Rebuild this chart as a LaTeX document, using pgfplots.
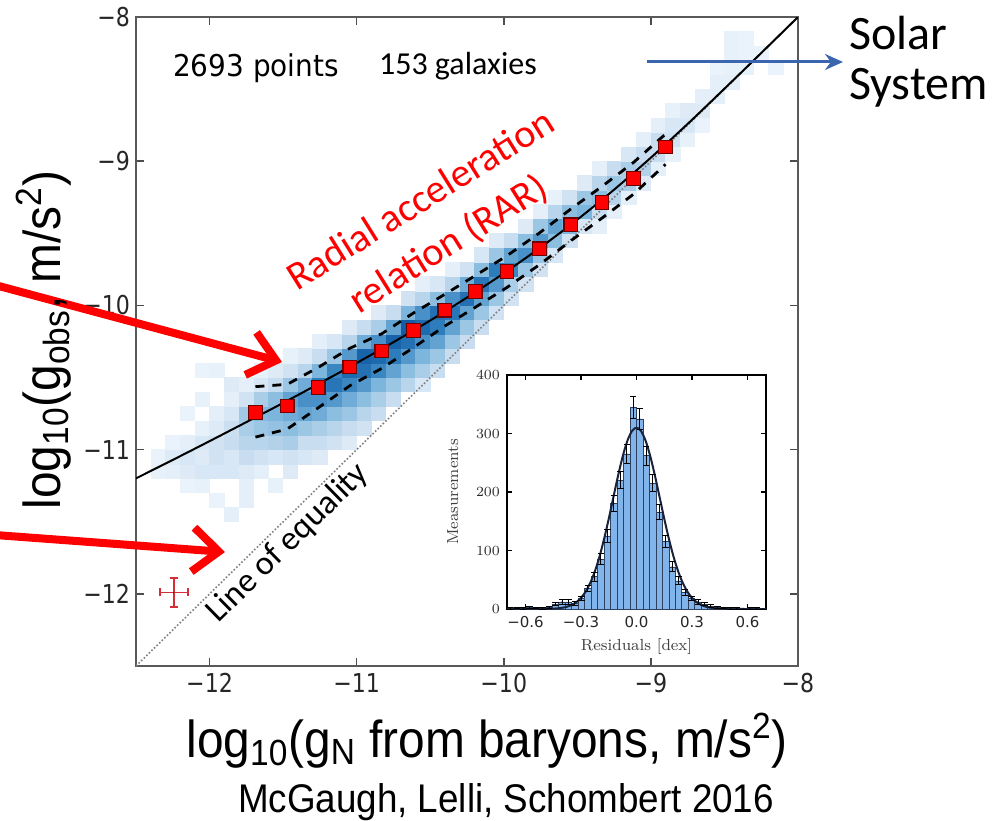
\documentclass[border=0pt]{standalone}
\usepackage{fontspec}
\usepackage{graphicx}
\usepackage{pgfplots}
\usepackage{pgfplotstable}
\pgfplotsset{compat=1.18}
\usetikzlibrary{arrows.meta}
\newfontfamily\dvs{DejaVu Sans}
\newfontfamily\calib{Carlito}
\newfontfamily\ars{Liberation Sans}
\definecolor{sqedge}{RGB}{110,0,0}
\definecolor{errred}{RGB}{215,45,55}
\definecolor{arrowblue}{RGB}{59,102,175}
\definecolor{histfill}{RGB}{128,180,235}
\definecolor{histedge}{RGB}{45,65,95}
\definecolor{fitline}{RGB}{25,35,60}

\pgfplotstableread{
x y m
-12.35 -11.15 0.05
-12.35 -11.05 0.04
-12.25 -11.15 0.06
-12.25 -11.05 0.08
-12.25 -10.95 0.04
-12.15 -11.25 0.04
-12.15 -11.15 0.08
-12.15 -11.05 0.10
-12.15 -10.95 0.06
-12.15 -10.75 0.04
-12.05 -11.25 0.05
-12.05 -11.15 0.10
-12.05 -11.05 0.08
-12.05 -10.95 0.10
-12.05 -10.85 0.05
-12.05 -10.65 0.05
-12.05 -10.45 0.04
-11.95 -11.35 0.04
-11.95 -11.15 0.10
-11.95 -11.05 0.12
-11.95 -10.95 0.12
-11.95 -10.85 0.08
-11.95 -10.75 0.06
-11.95 -10.45 0.05
-11.85 -11.45 0.06
-11.85 -11.15 0.10
-11.85 -11.05 0.10
-11.85 -10.95 0.15
-11.85 -10.85 0.14
-11.85 -10.75 0.10
-11.85 -10.65 0.06
-11.85 -10.55 0.08
-11.75 -11.35 0.06
-11.75 -11.25 0.06
-11.75 -11.15 0.08
-11.75 -11.05 0.15
-11.75 -10.95 0.20
-11.75 -10.85 0.25
-11.75 -10.75 0.28
-11.75 -10.65 0.12
-11.75 -10.55 0.06
-11.65 -11.15 0.06
-11.65 -11.05 0.12
-11.65 -10.95 0.20
-11.65 -10.85 0.30
-11.65 -10.75 0.38
-11.65 -10.65 0.25
-11.65 -10.55 0.10
-11.65 -10.45 0.05
-11.55 -11.25 0.05
-11.55 -11.05 0.10
-11.55 -10.95 0.22
-11.55 -10.85 0.32
-11.55 -10.75 0.40
-11.55 -10.65 0.35
-11.55 -10.55 0.15
-11.55 -10.45 0.08
-11.45 -11.15 0.08
-11.45 -11.05 0.12
-11.45 -10.95 0.25
-11.45 -10.85 0.35
-11.45 -10.75 0.45
-11.45 -10.65 0.50
-11.45 -10.55 0.30
-11.45 -10.45 0.12
-11.45 -10.35 0.05
-11.35 -11.05 0.10
-11.35 -10.95 0.15
-11.35 -10.85 0.30
-11.35 -10.75 0.50
-11.35 -10.65 0.60
-11.35 -10.55 0.45
-11.35 -10.45 0.20
-11.35 -10.35 0.08
-11.25 -11.05 0.08
-11.25 -10.95 0.15
-11.25 -10.85 0.25
-11.25 -10.75 0.45
-11.25 -10.65 0.60
-11.25 -10.55 0.70
-11.25 -10.45 0.40
-11.25 -10.35 0.15
-11.25 -10.25 0.06
-11.15 -10.95 0.12
-11.15 -10.85 0.20
-11.15 -10.75 0.35
-11.15 -10.65 0.55
-11.15 -10.55 0.75
-11.15 -10.45 0.65
-11.15 -10.35 0.30
-11.15 -10.25 0.10
-11.05 -10.95 0.08
-11.05 -10.85 0.15
-11.05 -10.75 0.30
-11.05 -10.65 0.45
-11.05 -10.55 0.65
-11.05 -10.45 0.85
-11.05 -10.35 0.55
-11.05 -10.25 0.20
-11.05 -10.15 0.08
-10.95 -10.85 0.12
-10.95 -10.75 0.20
-10.95 -10.65 0.35
-10.95 -10.55 0.55
-10.95 -10.45 0.80
-10.95 -10.35 0.90
-10.95 -10.25 0.45
-10.95 -10.15 0.15
-10.85 -10.75 0.15
-10.85 -10.65 0.25
-10.85 -10.55 0.40
-10.85 -10.45 0.65
-10.85 -10.35 0.85
-10.85 -10.25 0.60
-10.85 -10.15 0.25
-10.85 -10.05 0.08
-10.75 -10.65 0.15
-10.75 -10.55 0.30
-10.75 -10.45 0.50
-10.75 -10.35 0.70
-10.75 -10.25 0.90
-10.75 -10.15 0.50
-10.75 -10.05 0.15
-10.65 -10.55 0.20
-10.65 -10.45 0.35
-10.65 -10.35 0.55
-10.65 -10.25 0.80
-10.65 -10.15 0.95
-10.65 -10.05 0.40
-10.65 -9.95 0.12
-10.55 -10.55 0.10
-10.55 -10.45 0.25
-10.55 -10.35 0.40
-10.55 -10.25 0.60
-10.55 -10.15 0.85
-10.55 -10.05 0.60
-10.55 -9.95 0.20
-10.55 -9.85 0.06
-10.45 -10.45 0.15
-10.45 -10.35 0.30
-10.45 -10.25 0.50
-10.45 -10.15 0.70
-10.45 -10.05 0.80
-10.45 -9.95 0.35
-10.45 -9.85 0.10
-10.35 -10.35 0.15
-10.35 -10.25 0.30
-10.35 -10.15 0.50
-10.35 -10.05 0.75
-10.35 -9.95 0.60
-10.35 -9.85 0.20
-10.35 -9.75 0.06
-10.25 -10.25 0.15
-10.25 -10.15 0.30
-10.25 -10.05 0.50
-10.25 -9.95 0.80
-10.25 -9.85 0.45
-10.25 -9.75 0.12
-10.15 -10.15 0.15
-10.15 -10.05 0.30
-10.15 -9.95 0.50
-10.15 -9.85 0.75
-10.15 -9.75 0.35
-10.15 -9.65 0.10
-10.05 -10.05 0.12
-10.05 -9.95 0.30
-10.05 -9.85 0.55
-10.05 -9.75 0.70
-10.05 -9.65 0.30
-10.05 -9.55 0.08
-9.95 -9.95 0.12
-9.95 -9.85 0.25
-9.95 -9.75 0.65
-9.95 -9.65 0.50
-9.95 -9.55 0.15
-9.85 -9.85 0.12
-9.85 -9.75 0.30
-9.85 -9.65 0.60
-9.85 -9.55 0.35
-9.85 -9.45 0.08
-9.75 -9.75 0.12
-9.75 -9.65 0.30
-9.75 -9.55 0.55
-9.75 -9.45 0.30
-9.75 -9.35 0.06
-9.65 -9.65 0.10
-9.65 -9.55 0.35
-9.65 -9.45 0.50
-9.65 -9.35 0.20
-9.65 -9.25 0.05
-9.55 -9.55 0.12
-9.55 -9.45 0.40
-9.55 -9.35 0.35
-9.55 -9.25 0.12
-9.45 -9.45 0.10
-9.45 -9.35 0.40
-9.45 -9.25 0.30
-9.45 -9.15 0.08
-9.35 -9.45 0.06
-9.35 -9.35 0.15
-9.35 -9.25 0.35
-9.35 -9.15 0.20
-9.35 -9.05 0.06
-9.25 -9.35 0.06
-9.25 -9.25 0.20
-9.25 -9.15 0.30
-9.25 -9.05 0.15
-9.15 -9.25 0.06
-9.15 -9.15 0.25
-9.15 -9.05 0.25
-9.15 -8.95 0.10
-9.05 -9.15 0.08
-9.05 -9.05 0.22
-9.05 -8.95 0.15
-9.05 -8.85 0.06
-8.95 -9.05 0.06
-8.95 -8.95 0.15
-8.95 -8.85 0.15
-8.95 -8.75 0.06
-8.85 -8.95 0.05
-8.85 -8.85 0.12
-8.85 -8.75 0.10
-8.85 -8.65 0.05
-8.75 -8.85 0.05
-8.75 -8.75 0.10
-8.75 -8.65 0.08
-8.65 -8.75 0.04
-8.65 -8.65 0.08
-8.65 -8.55 0.06
-8.55 -8.55 0.06
-8.55 -8.45 0.06
-8.55 -8.35 0.04
-8.45 -8.45 0.06
-8.45 -8.35 0.05
-8.45 -8.25 0.05
-8.45 -8.15 0.05
-8.35 -8.35 0.05
-8.35 -8.25 0.04
-8.35 -8.15 0.04
-8.25 -8.25 0.04
-8.15 -8.35 0.04
}\heat

\pgfplotstableread{
x y e
-0.6825 1 1
-0.6475 2 1.4
-0.6125 1 1
-0.5775 3 1.7
-0.5425 2 1.4
-0.5075 1 1
-0.4725 3 1.7
-0.4375 8 2.8
-0.4025 12 3.5
-0.3675 12 3.5
-0.3325 10 3.2
-0.2975 18 4.2
-0.2625 35 5.9
-0.2275 55 7.4
-0.1925 85 9.2
-0.1575 125 11.2
-0.1225 180 13.4
-0.0875 220 14.8
-0.0525 265 16.3
-0.0175 345 18.6
0.0175 325 18.0
0.0525 262 16.2
0.0875 215 14.7
0.1225 165 12.8
0.1575 115 10.7
0.1925 72 8.5
0.2275 48 6.9
0.2625 28 5.3
0.2975 18 4.2
0.3325 12 3.5
0.3675 8 2.8
0.4025 5 2.2
0.4375 3 1.7
0.4725 2 1.4
0.5075 1 1
0.5425 1 1
0.5775 0 0
0.6125 1 1
0.6475 1 1
0.6825 0 0
}\hist

\pgfplotstableread{
x y u l
-11.688 -10.743 -10.563 -10.913
-11.472 -10.697 -10.547 -10.857
-11.262 -10.570 -10.430 -10.710
-11.047 -10.427 -10.297 -10.557
-10.829 -10.316 -10.196 -10.436
-10.615 -10.173 -10.053 -10.293
-10.401 -10.033 -9.923 -10.143
-10.194 -9.903 -9.793 -10.013
-9.978 -9.765 -9.655 -9.875
-9.757 -9.607 -9.497 -9.717
-9.544 -9.441 -9.331 -9.551
-9.333 -9.285 -9.175 -9.395
-9.119 -9.119 -9.009 -9.229
-8.901 -8.902 -8.812 -9.022
}\binned

\begin{document}
\begin{tikzpicture}[x=0.5pt,y=0.5pt]
\useasboundingbox (0,0) rectangle (1004,820);

\begin{axis}[
  at={(68pt,77pt)}, anchor=south west, scale only axis,
  width=331pt, height=324.5pt,
  xmin=-12.5, xmax=-8, ymin=-12.5, ymax=-8,
  xtick={-12,-11,-10,-9,-8}, ytick={-12,-11,-10,-9,-8},
  xticklabels={−12,−11,−10,−9,−8}, yticklabels={−12,−11,−10,−9,−8},
  tick align=inside, tick pos=both,
  major tick length=4pt,
  clip marker paths=true,
  axis line style={black!65, line width=1pt},
  major tick style={black!70, line width=0.8pt},
  tick label style={font=\dvs\fontsize{13}{13}\selectfont, xscale=0.85, text=black!85},
  colormap={blues}{rgb255(0cm)=(247,251,255) rgb255(3cm)=(200,221,240) rgb255(8cm)=(125,182,220) rgb255(14cm)=(45,125,188) rgb255(20cm)=(14,86,160)},
  point meta min=0, point meta max=1,
]
\addplot[scatter, only marks, mark=square*, mark size=3.55pt,
  scatter/use mapped color={draw=mapped color, fill=mapped color},
  point meta=explicit] table[x=x, y=y, meta=m] {\heat};
\addplot[densely dotted, black!50, line width=0.8pt] coordinates {(-12.5,-12.5) (-8,-8)};
\addplot[black, line width=1pt, smooth] coordinates {
(-12.5,-11.199) (-12.25,-11.071) (-12.0,-10.941) (-11.75,-10.809) (-11.5,-10.676)
(-11.25,-10.539) (-11.0,-10.399) (-10.75,-10.2545) (-10.5,-10.104) (-10.25,-9.945)
(-10.0,-9.777) (-9.75,-9.5975) (-9.5,-9.4046) (-9.25,-9.197) (-9.0,-8.975)
(-8.75,-8.741) (-8.5,-8.497) (-8.25,-8.2495) (-8.0,-8.0)};
\addplot[black, line width=1.4pt, dash pattern=on 4.5pt off 4pt] table[x=x, y=u] {\binned};
\addplot[black, line width=1.4pt, dash pattern=on 4.5pt off 4pt] table[x=x, y=l] {\binned};
\addplot[only marks, mark=square*, mark size=3.4pt,
  mark options={fill=red, draw=sqedge, line width=0.6pt}] table[x=x, y=y] {\binned};
\addplot[draw=none, mark=*, mark size=0.01pt, mark options={draw=none, fill=none},
  error bars/.cd, x dir=both, y dir=both, x explicit, y explicit,
  error mark=|,
  error bar style={draw=errred, solid, line width=0.9pt},
  error mark options={draw=errred, solid, mark size=2pt, line width=0.9pt}]
  coordinates {(-12.244,-11.99) +- (0.095,0.1)};
\end{axis}

\begin{axis}[
  at={(253.5pt,105.5pt)}, anchor=south west, scale only axis,
  width=129.5pt, height=117pt,
  xmin=-0.7, xmax=0.7, ymin=0, ymax=400,
  xtick={-0.6,-0.3,0,0.3,0.6}, xticklabels={−0.6,−0.3,0.0,0.3,0.6},
  ytick={0,100,200,300,400},
  tick align=inside, tick pos=both,
  major tick length=2.5pt,
  clip marker paths=true,
  axis background/.style={fill=white},
  axis line style={black, line width=0.6pt},
  major tick style={black, line width=0.6pt},
  tick label style={font=\dvs\fontsize{7.5}{7.5}\selectfont, text=black!85},
  xlabel={Residuals [dex]}, ylabel={Measurements},
  label style={font=\fontsize{8}{9}\selectfont, text=black!75},
  xlabel style={at={(axis description cs:0.5,-0.16)}, anchor=center},
  ylabel style={at={(axis description cs:-0.21,0.5)}, anchor=center},
]
\addplot[ybar, bar width=0.035, bar shift=0pt, fill=histfill, draw=histedge, line width=0.35pt] table[x=x, y=y] {\hist};
\addplot[fitline, line width=1pt, smooth] coordinates {
(-0.7,0) (-0.6,0) (-0.5,0.13) (-0.45,0.58) (-0.4,2.17) (-0.375,3.96) (-0.35,6.95)
(-0.325,11.7) (-0.3,19.0) (-0.275,29.7) (-0.25,44.7) (-0.225,64.5) (-0.2,89.7)
(-0.175,120.0) (-0.15,154.3) (-0.125,191.0) (-0.1,227.4) (-0.075,260.4) (-0.05,286.9)
(-0.025,304.0) (0,310) (0.025,304.0) (0.05,286.9) (0.075,260.4) (0.1,227.4)
(0.125,191.0) (0.15,154.3) (0.175,120.0) (0.2,89.7) (0.225,64.5) (0.25,44.7)
(0.275,29.7) (0.3,19.0) (0.325,11.7) (0.35,6.95) (0.375,3.96) (0.4,2.17)
(0.45,0.58) (0.5,0.13) (0.6,0) (0.7,0)};
\addplot[draw=none, mark=*, mark size=0.01pt, mark options={draw=none, fill=none},
  error bars/.cd, y dir=both, y explicit,
  error mark=|,
  error bar style={draw=black, solid, line width=0.5pt},
  error mark options={draw=black, solid, mark size=1.6pt, line width=0.5pt}]
  table[x=x, y=y, y error=e] {\hist};
\end{axis}

% annotations
\node[anchor=base, font=\dvs\fontsize{15}{15}\selectfont, xscale=0.93] at (256,743) {2693 points};
\node[anchor=base west, font=\calib\fontsize{16}{16}\selectfont] at (372,745) {153 galaxies};
\node[anchor=base west, font=\calib\fontsize{24}{24}\selectfont] at (842,770) {Solar};
\node[anchor=base west, font=\calib\fontsize{24}{24}\selectfont] at (842,720) {System};
\draw[arrowblue, line width=1.5pt, -{Stealth[length=9pt, width=8pt]}] (647,758) -- (843,758);

\node[red, rotate=32, align=center, font=\calib\fontsize{20}{26}\selectfont] at (435,597) {Radial acceleration\\relation (RAR)};
\node[rotate=44.5, font=\calib\fontsize{17}{17}\selectfont] at (288,277) {Line of equality};

\draw[red, line width=4pt, -{Straight Barb[length=13pt, width=22pt]}] (-5,535) -- (282,458);
\draw[red, line width=4pt, -{Straight Barb[length=13pt, width=22pt]}] (-5,285) -- (225,268);

\node[anchor=base, rotate=90, font=\ars\fontsize{26}{26}\selectfont, xscale=0.92] at (60,480)
  {log\textsubscript{10}(g\textsubscript{obs}, m/s\textsuperscript{2})};
\node[anchor=base, font=\ars\fontsize{26}{26}\selectfont, xscale=0.92] at (487,63)
  {log\textsubscript{10}(g\textsubscript{N} from baryons, m/s\textsuperscript{2})};
\node[anchor=base, font=\ars\fontsize{20}{20}\selectfont, xscale=0.92] at (506,8)
  {McGaugh, Lelli, Schombert 2016};
\end{tikzpicture}
\end{document}
